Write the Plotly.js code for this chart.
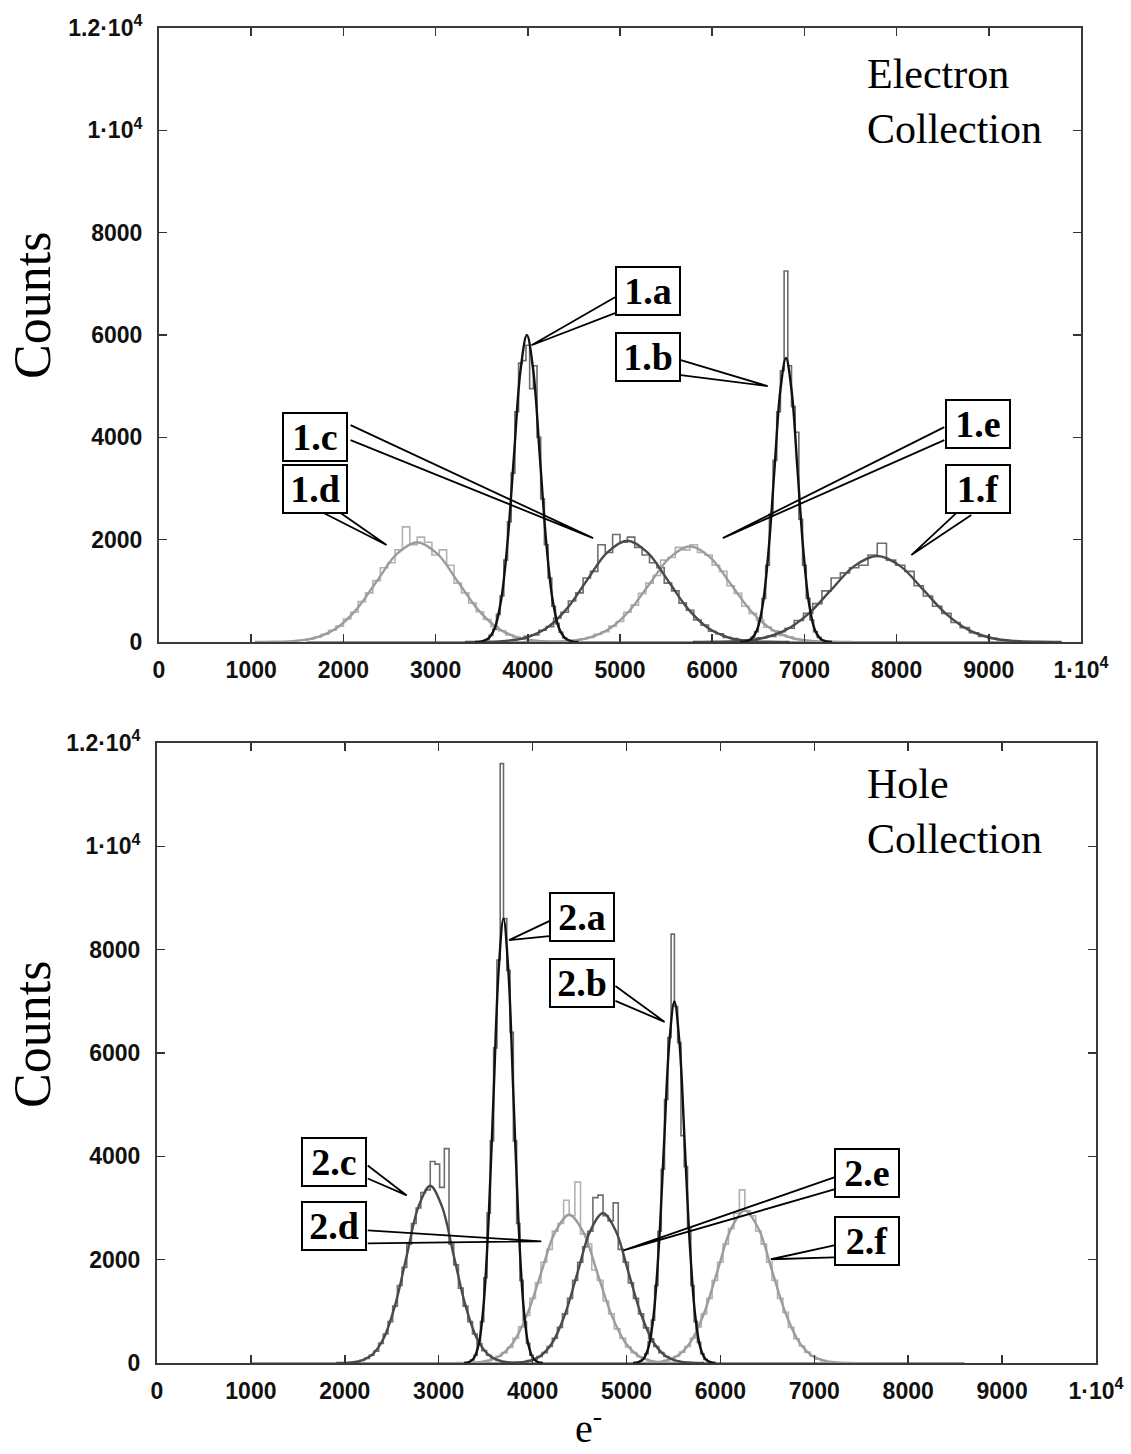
<!DOCTYPE html>
<html>
<head>
<meta charset="utf-8">
<script src="https://cdn.plot.ly/plotly-3.0.1.min.js"></script>
<style>html,body{margin:0;padding:0;background:#fff;}#chart{width:1131px;height:1454px;}</style>
</head>
<body>
<div id="chart"></div>
<script>
// ---------- tick labels ----------
const xTickVals = [0, 1000, 2000, 3000, 4000, 5000, 6000, 7000, 8000, 9000, 10000];
const xTickText = ['0', '1000', '2000', '3000', '4000', '5000', '6000', '7000', '8000', '9000', '1·10<sup>4</sup>'];
const yTickVals = [0, 2000, 4000, 6000, 8000, 10000, 12000];
const yTickText = ['0', '2000', '4000', '6000', '8000', '1·10<sup>4</sup>', '1.2·10<sup>4</sup>'];

// ---------- Electron collection: Gaussian fit curves (e-, counts) ----------
const fit1aX = [3430, 3500, 3570, 3640, 3710, 3780, 3850, 3920, 3990, 4060, 4130, 4200, 4270, 4340, 4410, 4480, 4550];
const fit1aY = [2, 13, 67, 264, 812, 1948, 3639, 5295, 6000, 5295, 3639, 1948, 812, 264, 67, 13, 2];
const fit1bX = [6300, 6362, 6425, 6488, 6550, 6612, 6675, 6738, 6800, 6862, 6925, 6988, 7050, 7112, 7175, 7238, 7300];
const fit1bY = [2, 12, 62, 244, 751, 1802, 3366, 4898, 5550, 4898, 3366, 1802, 751, 244, 62, 12, 2];
const fit1cX = [3320, 3540, 3760, 3980, 4200, 4420, 4640, 4860, 5080, 5300, 5520, 5740, 5960, 6180, 6400, 6620, 6840];
const fit1cY = [1, 4, 22, 87, 268, 643, 1201, 1747, 1980, 1747, 1201, 643, 268, 87, 22, 4, 1];
const fit1dX = [1040, 1260, 1480, 1700, 1920, 2140, 2360, 2580, 2800, 3020, 3240, 3460, 3680, 3900, 4120, 4340, 4560];
const fit1dY = [1, 4, 22, 86, 264, 633, 1183, 1721, 1950, 1721, 1183, 633, 264, 86, 22, 4, 1];
const fit1eX = [4000, 4220, 4440, 4660, 4880, 5100, 5320, 5540, 5760, 5980, 6200, 6420, 6640, 6860, 7080, 7300, 7520];
const fit1eY = [1, 4, 21, 82, 253, 607, 1134, 1650, 1870, 1650, 1134, 607, 253, 82, 21, 4, 1];
const fit1fX = [5790, 6040, 6290, 6540, 6790, 7040, 7290, 7540, 7790, 8040, 8290, 8540, 8790, 9040, 9290, 9540, 9790];
const fit1fY = [1, 4, 19, 74, 227, 545, 1019, 1483, 1680, 1483, 1019, 545, 227, 74, 19, 4, 1];

// ---------- Electron collection: histograms (bin centre of first bin, bin width, counts) ----------
const hist1aStart = 3520, hist1aWidth = 40;
const hist1a = [20, 50, 130, 250, 540, 900, 1600, 2350, 3300, 4500, 5450, 5500, 5800, 4950, 5400, 4000, 2800, 1900, 1250, 700, 360, 190, 80, 30, 10];
const hist1bStart = 6320, hist1bWidth = 40;
const hist1b = [3, 10, 35, 90, 200, 460, 850, 1500, 2500, 3550, 4500, 5300, 7250, 5400, 4600, 4100, 2400, 1500, 850, 430, 200, 90, 30, 10, 3];
const hist1cStart = 3840, hist1cWidth = 80;
const hist1c = [40, 55, 110, 140, 230, 300, 470, 580, 800, 960, 1250, 1380, 1900, 1750, 2100, 1950, 2050, 1850, 1700, 1550, 1450, 1150, 1000, 760, 620, 430, 330, 210, 160, 90, 65, 35];
const hist1dStart = 1560, hist1dWidth = 80;
const hist1d = [35, 60, 95, 150, 230, 310, 450, 580, 790, 960, 1200, 1450, 1550, 1800, 2250, 1900, 2050, 1950, 1700, 1800, 1500, 1150, 960, 760, 590, 440, 300, 220, 140, 90, 60, 35];
const hist1eStart = 4520, hist1eWidth = 80;
const hist1e = [30, 60, 90, 150, 200, 310, 400, 580, 720, 950, 1150, 1300, 1600, 1650, 1850, 1800, 1900, 1750, 1700, 1500, 1380, 1100, 950, 700, 560, 430, 290, 220, 130, 100, 50, 35];
const hist1fStart = 6340, hist1fWidth = 100;
const hist1f = [30, 40, 80, 110, 200, 270, 420, 560, 750, 1000, 1250, 1350, 1450, 1500, 1700, 1930, 1600, 1500, 1380, 1100, 900, 700, 560, 380, 280, 180, 110, 70, 45, 25];
const elecBaselineX = [1600, 9700];
const elecBaselineY = [0, 0];

// ---------- Hole collection: Gaussian fit curves ----------
const fit2aX = [3270, 3322, 3375, 3428, 3480, 3532, 3585, 3638, 3690, 3742, 3795, 3848, 3900, 3952, 4005, 4058, 4110];
const fit2aY = [3, 19, 95, 378, 1164, 2792, 5216, 7590, 8600, 7590, 5216, 2792, 1164, 378, 95, 19, 3];
const fit2bX = [5070, 5125, 5180, 5235, 5290, 5345, 5400, 5455, 5510, 5565, 5620, 5675, 5730, 5785, 5840, 5895, 5950];
const fit2bY = [2, 15, 78, 307, 947, 2273, 4246, 6178, 7000, 6178, 4246, 2273, 947, 307, 78, 15, 2];
const fit2cX = [1910, 2035, 2160, 2285, 2410, 2535, 2660, 2785, 2910, 3035, 3160, 3285, 3410, 3535, 3660, 3785, 3910];
const fit2cY = [1, 8, 38, 151, 464, 1114, 2080, 3027, 3430, 3027, 2080, 1114, 464, 151, 38, 8, 1];
const fit2dX = [3190, 3340, 3490, 3640, 3790, 3940, 4090, 4240, 4390, 4540, 4690, 4840, 4990, 5140, 5290, 5440, 5590];
const fit2dY = [1, 6, 32, 126, 388, 932, 1741, 2533, 2870, 2533, 1741, 932, 388, 126, 32, 6, 1];
const fit2eX = [3670, 3805, 3940, 4075, 4210, 4345, 4480, 4615, 4750, 4885, 5020, 5155, 5290, 5425, 5560, 5695, 5830];
const fit2eY = [1, 6, 32, 127, 392, 942, 1759, 2559, 2900, 2559, 1759, 942, 392, 127, 32, 6, 1];
const fit2fX = [5100, 5245, 5390, 5535, 5680, 5825, 5970, 6115, 6260, 6405, 6550, 6695, 6840, 6985, 7130, 7275, 7420];
const fit2fY = [1, 6, 33, 130, 399, 958, 1789, 2603, 2950, 2603, 1789, 958, 399, 130, 33, 6, 1];

// ---------- Hole collection: histograms ----------
const hist2aStart = 3322.5, hist2aWidth = 35;
const hist2a = [19, 60, 150, 390, 800, 1650, 2900, 4300, 6100, 7800, 11600, 8600, 7600, 6400, 4300, 2700, 1600, 800, 380, 150, 60, 20];
const hist2bStart = 5142.5, hist2bWidth = 35;
const hist2b = [27, 75, 180, 410, 830, 1500, 2550, 3750, 5100, 6300, 8300, 6900, 6200, 4400, 3800, 2600, 1500, 800, 400, 180, 70, 25];
const hist2cStart = 2085, hist2cWidth = 50;
const hist2c = [15, 30, 50, 90, 150, 230, 380, 560, 800, 1100, 1500, 1850, 2300, 2700, 3000, 3300, 3350, 3900, 3850, 3400, 4150, 2300, 1900, 1450, 1100, 800, 560, 370, 240, 150, 90, 50, 28, 15];
const hist2dStart = 3400, hist2dWidth = 60;
const hist2d = [12, 25, 45, 70, 130, 200, 300, 480, 700, 920, 1250, 1550, 1950, 2200, 2550, 2700, 3150, 2850, 3500, 2500, 2300, 1800, 1600, 1200, 950, 660, 480, 310, 200, 120, 75, 40, 24, 12];
const hist2eStart = 3859, hist2eWidth = 54;
const hist2e = [12, 24, 45, 75, 125, 200, 320, 480, 690, 950, 1250, 1600, 1950, 2250, 2550, 3200, 3250, 2850, 2750, 3100, 2200, 1950, 1550, 1250, 950, 680, 470, 320, 200, 125, 75, 43, 24, 12];
const hist2fStart = 5303, hist2fWidth = 58;
const hist2f = [13, 25, 45, 75, 130, 210, 320, 480, 700, 950, 1250, 1600, 1950, 2300, 2600, 2900, 3350, 2950, 2850, 2550, 2300, 1950, 1600, 1250, 980, 690, 470, 330, 210, 130, 75, 45, 25, 13];
const holeBaselineX = [1000, 8600];
const holeBaselineY = [0, 0];

// ---------- callout labels: text, box centre, wedge base points, tip (data units) ----------
const callouts = [
  {t: '1.a', ax: 'x',  ay: 'y',  c: [5303, 6855], p1: [4946, 6738], p2: [4946, 6426], tip: [4040, 5800]},
  {t: '1.b', ax: 'x',  ay: 'y',  c: [5303, 5566], p1: [5660, 5508], p2: [5660, 5215], tip: [6602, 5000]},
  {t: '1.c', ax: 'x',  ay: 'y',  c: [1688, 4004], p1: [2078, 4238], p2: [2078, 3945], tip: [4708, 2031]},
  {t: '1.d', ax: 'x',  ay: 'y',  c: [1688, 2988], p1: [1786, 2520], p2: [1970, 2520], tip: [2468, 1895]},
  {t: '1.e', ax: 'x',  ay: 'y',  c: [8885, 4258], p1: [8517, 4199], p2: [8517, 3945], tip: [6115, 2031]},
  {t: '1.f', ax: 'x',  ay: 'y',  c: [8885, 2988], p1: [8647, 2520], p2: [8810, 2480], tip: [8160, 1699]},
  {t: '2.a', ax: 'x2', ay: 'y2', c: [4530, 8629], p1: [4177, 8552], p2: [4177, 8263], tip: [3750, 8185]},
  {t: '2.b', ax: 'x2', ay: 'y2', c: [4530, 7355], p1: [4882, 7297], p2: [4882, 7008], tip: [5406, 6602]},
  {t: '2.c', ax: 'x2', ay: 'y2', c: [1880, 3900], p1: [2244, 3822], p2: [2244, 3571], tip: [2660, 3243]},
  {t: '2.d', ax: 'x2', ay: 'y2', c: [1880, 2645], p1: [2244, 2568], p2: [2244, 2317], tip: [4092, 2355]},
  {t: '2.e', ax: 'x2', ay: 'y2', c: [7564, 3687], p1: [7212, 3591], p2: [7212, 3359], tip: [4968, 2181]},
  {t: '2.f', ax: 'x2', ay: 'y2', c: [7564, 2355], p1: [7212, 2278], p2: [7212, 2046], tip: [6538, 2008]}
];

// ---------- styles ----------
const BLACK = '#111111', DARK = '#4a4a4a', LIGHT = '#9c9c9c';
const HBLACK = '#6a6a6a', HDARK = '#6e6e6e', HLIGHT = '#b2b2b2';

function hist(y, start, width, color, xa, ya) {
  return {type: 'scatter', mode: 'lines', x0: start, dx: width, y: y, xaxis: xa, yaxis: ya,
          line: {shape: 'hvh', color: color, width: 1.6}, hoverinfo: 'skip', showlegend: false};
}
function fit(x, y, color, xa, ya) {
  return {type: 'scatter', mode: 'lines', x: x, y: y, xaxis: xa, yaxis: ya,
          line: {shape: 'spline', smoothing: 1.0, color: color, width: 2.4}, hoverinfo: 'skip', showlegend: false};
}
function base(x, y, color, xa, ya) {
  return {type: 'scatter', mode: 'lines', x: x, y: y, xaxis: xa, yaxis: ya,
          line: {color: color, width: 2}, hoverinfo: 'skip', showlegend: false};
}

const traces = [
  base(elecBaselineX, elecBaselineY, '#9a9a9a', 'x', 'y'),
  hist(hist1d, hist1dStart, hist1dWidth, HLIGHT, 'x', 'y'),
  hist(hist1e, hist1eStart, hist1eWidth, HLIGHT, 'x', 'y'),
  hist(hist1c, hist1cStart, hist1cWidth, HDARK, 'x', 'y'),
  hist(hist1f, hist1fStart, hist1fWidth, HDARK, 'x', 'y'),
  hist(hist1a, hist1aStart, hist1aWidth, HBLACK, 'x', 'y'),
  hist(hist1b, hist1bStart, hist1bWidth, HBLACK, 'x', 'y'),
  fit(fit1dX, fit1dY, LIGHT, 'x', 'y'),
  fit(fit1eX, fit1eY, LIGHT, 'x', 'y'),
  fit(fit1cX, fit1cY, DARK, 'x', 'y'),
  fit(fit1fX, fit1fY, DARK, 'x', 'y'),
  fit(fit1aX, fit1aY, BLACK, 'x', 'y'),
  fit(fit1bX, fit1bY, BLACK, 'x', 'y'),

  base(holeBaselineX, holeBaselineY, '#9a9a9a', 'x2', 'y2'),
  hist(hist2d, hist2dStart, hist2dWidth, HLIGHT, 'x2', 'y2'),
  hist(hist2f, hist2fStart, hist2fWidth, HLIGHT, 'x2', 'y2'),
  hist(hist2c, hist2cStart, hist2cWidth, HDARK, 'x2', 'y2'),
  hist(hist2e, hist2eStart, hist2eWidth, HDARK, 'x2', 'y2'),
  hist(hist2a, hist2aStart, hist2aWidth, HBLACK, 'x2', 'y2'),
  hist(hist2b, hist2bStart, hist2bWidth, HBLACK, 'x2', 'y2'),
  fit(fit2dX, fit2dY, LIGHT, 'x2', 'y2'),
  fit(fit2fX, fit2fY, LIGHT, 'x2', 'y2'),
  fit(fit2cX, fit2cY, DARK, 'x2', 'y2'),
  fit(fit2eX, fit2eY, DARK, 'x2', 'y2'),
  fit(fit2aX, fit2aY, BLACK, 'x2', 'y2'),
  fit(fit2bX, fit2bY, BLACK, 'x2', 'y2')
];

const tickFont = {family: '"Liberation Sans", Arial, sans-serif', size: 23, color: '#111', weight: 'bold'};
function xAxis(domain, anchor) {
  return {domain: domain, anchor: anchor, range: [0, 10000], tickmode: 'array', tickvals: xTickVals, ticktext: xTickText,
          ticks: 'inside', ticklen: 8, tickwidth: 1.5, tickcolor: '#333', mirror: 'ticks', showline: true,
          linecolor: '#3a3a3a', linewidth: 2, showgrid: false, zeroline: false, tickfont: tickFont,
          ticklabelstandoff: 6, fixedrange: true};
}
function yAxis(domain, anchor) {
  return {domain: domain, anchor: anchor, range: [0, 12000], tickmode: 'array', tickvals: yTickVals, ticktext: yTickText,
          ticks: 'inside', ticklen: 8, tickwidth: 1.5, tickcolor: '#333', mirror: 'ticks', showline: true,
          linecolor: '#3a3a3a', linewidth: 2, showgrid: false, zeroline: false, tickfont: tickFont,
          ticklabelstandoff: 10, fixedrange: true};
}

const serif = '"Liberation Serif", "Times New Roman", serif';
const annotations = [
  {text: 'Counts', xref: 'paper', yref: 'paper', x: 32 / 1131, y: 1 - 306 / 1454, textangle: -90, showarrow: false,
   xanchor: 'center', yanchor: 'middle', font: {family: serif, size: 52, color: '#000'}},
  {text: 'Counts', xref: 'paper', yref: 'paper', x: 32 / 1131, y: 1 - 1035 / 1454, textangle: -90, showarrow: false,
   xanchor: 'center', yanchor: 'middle', font: {family: serif, size: 52, color: '#000'}},
  {text: 'Electron<br>Collection', xref: 'paper', yref: 'paper', x: 865 / 1131, y: 1 - 102 / 1454, showarrow: false,
   xanchor: 'left', yanchor: 'middle', align: 'left', font: {family: serif, size: 42, color: '#000'}},
  {text: 'Hole<br>Collection', xref: 'paper', yref: 'paper', x: 865 / 1131, y: 1 - 812 / 1454, showarrow: false,
   xanchor: 'left', yanchor: 'middle', align: 'left', font: {family: serif, size: 42, color: '#000'}},
  {text: 'e<sup>-</sup>', xref: 'paper', yref: 'paper', x: 588 / 1131, y: 1 - 1425 / 1454, showarrow: false,
   xanchor: 'center', yanchor: 'middle', borderpad: 0, font: {family: serif, size: 40, color: '#000'}}
];
const shapes = [];
callouts.forEach(function (c) {
  shapes.push({type: 'path', xref: c.ax, yref: c.ay, layer: 'above',
    path: 'M ' + c.p1[0] + ',' + c.p1[1] + ' L ' + c.tip[0] + ',' + c.tip[1] + ' L ' + c.p2[0] + ',' + c.p2[1],
    line: {color: '#000', width: 1.8}});
  annotations.push({text: '<b>' + c.t + '</b>', xref: c.ax, yref: c.ay, x: c.c[0], y: c.c[1], showarrow: false,
    xanchor: 'center', yanchor: 'middle', bgcolor: '#fff', bordercolor: '#000', borderwidth: 2, borderpad: 1,
    width: 60, height: 44, font: {family: serif, size: 38, color: '#000'}});
});

const layout = {
  width: 1131, height: 1454, margin: {l: 0, r: 0, t: 0, b: 0},
  paper_bgcolor: '#fff', plot_bgcolor: '#fff', showlegend: false,
  xaxis: xAxis([159 / 1131, 1081 / 1131], 'y'),
  yaxis: yAxis([1 - 642 / 1454, 1 - 28 / 1454], 'x'),
  xaxis2: xAxis([157 / 1131, 1096 / 1131], 'y2'),
  yaxis2: yAxis([1 - 1363 / 1454, 1 - 743 / 1454], 'x2'),
  annotations: annotations,
  shapes: shapes
};

Plotly.newPlot('chart', traces, layout, {staticPlot: true, displayModeBar: false});
</script>
</body>
</html>
